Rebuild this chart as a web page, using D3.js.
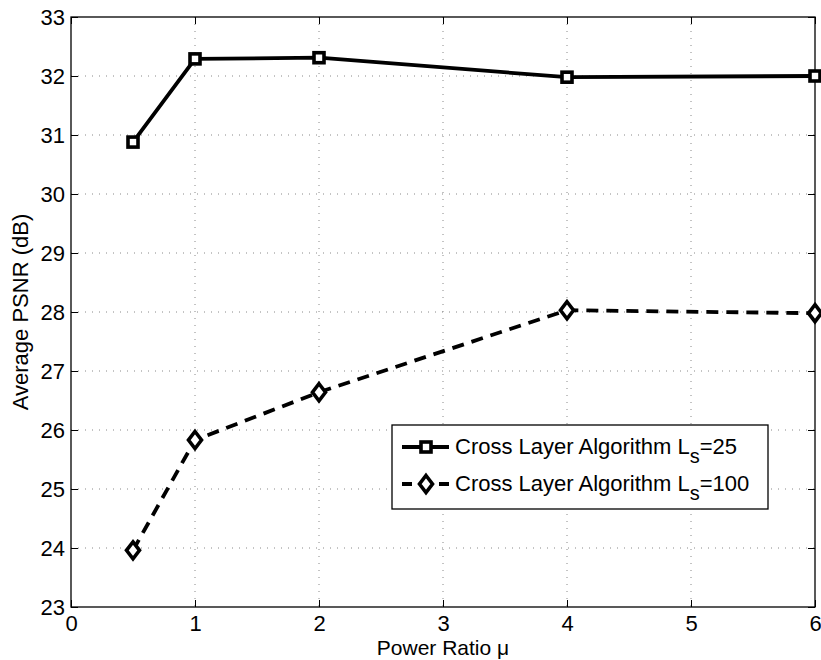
<!DOCTYPE html>
<html>
<head>
<meta charset="utf-8">
<script src="https://cdn.jsdelivr.net/npm/d3@7"></script>
<style>
  body { margin: 0; background: #fff; }
  svg text { font-family: "Liberation Sans", Arial, Helvetica, sans-serif; fill: #000; }
</style>
</head>
<body>
<svg id="chart" width="821" height="660"></svg>
<script>
// Power ratio (x) vs. average PSNR in dB for two slice lengths
const powerRatio = [0.5, 1, 2, 4, 6];
const psnrLs25 = [30.88, 32.29, 32.31, 31.98, 32.00];
const psnrLs100 = [23.96, 25.83, 26.64, 28.03, 27.98];
const xTicks = [0, 1, 2, 3, 4, 5, 6];
const yTicks = [23, 24, 25, 26, 27, 28, 29, 30, 31, 32, 33];
const seriesNames = ["Cross Layer Algorithm L", "Cross Layer Algorithm L"];
const seriesSubs = ["s", "s"];
const seriesSuffix = ["=25", "=100"];

const svg = d3.select("#chart");
const plotL = 71, plotR = 815, plotT = 17, plotB = 607;

const x = d3.scaleLinear().domain([0, 6]).range([plotL, plotR]);
const y = d3.scaleLinear().domain([23, 33]).range([plotB, plotT]);

// dotted grid
const grid = svg.append("g");
grid.selectAll(".gx").data(xTicks.slice(1, -1)).join("line")
  .attr("x1", d => x(d)).attr("x2", d => x(d))
  .attr("y1", plotT).attr("y2", plotB)
  .attr("stroke", "#888").attr("stroke-width", 1).attr("stroke-dasharray", "1,6");
grid.selectAll(".gy").data(yTicks.slice(1, -1)).join("line")
  .attr("x1", plotL).attr("x2", plotR)
  .attr("y1", d => y(d)).attr("y2", d => y(d))
  .attr("stroke", "#888").attr("stroke-width", 1).attr("stroke-dasharray", "1,6");

// axes with inward ticks on all four sides
const tickLen = 7;
const fontSize = 22;
const ax = d3.axisBottom(x).tickValues(xTicks).tickSize(-tickLen).tickPadding(tickLen + 1).tickFormat(d3.format("d"));
const ay = d3.axisLeft(y).tickValues(yTicks).tickSize(-tickLen).tickPadding(tickLen - 1).tickFormat(d3.format("d"));
const axTop = d3.axisTop(x).tickValues(xTicks).tickSize(-tickLen).tickFormat("");
const ayRight = d3.axisRight(y).tickValues(yTicks).tickSize(-tickLen).tickFormat("");

function style(g) {
  g.select(".domain").remove();
  g.selectAll(".tick line").attr("stroke", "#000").attr("stroke-width", 1);
  g.selectAll(".tick text").attr("font-size", fontSize)
    .attr("font-family", '"Liberation Sans", Arial, sans-serif').attr("fill", "#000");
}
svg.append("g").attr("transform", `translate(0,${plotB})`).call(ax).call(style);
svg.append("g").attr("transform", `translate(${plotL},0)`).call(ay).call(style);
svg.append("g").attr("transform", `translate(0,${plotT})`).call(axTop).call(style);
svg.append("g").attr("transform", `translate(${plotR},0)`).call(ayRight).call(style);

// plot frame
svg.append("rect").attr("x", plotL).attr("y", plotT)
  .attr("width", plotR - plotL).attr("height", plotB - plotT)
  .attr("fill", "none").attr("stroke", "#000").attr("stroke-width", 1.3);

// axis titles
svg.append("text").attr("x", x(3)).attr("y", 655)
  .attr("text-anchor", "middle").attr("font-size", 21)
  .text("Power Ratio \u03BC");
svg.append("text")
  .attr("transform", `translate(28,${(plotT + plotB) / 2}) rotate(-90)`)
  .attr("text-anchor", "middle").attr("font-size", fontSize)
  .text("Average PSNR (dB)");

// series
const line = d3.line().x(d => x(d[0])).y(d => y(d[1]));
const data25 = powerRatio.map((p, i) => [p, psnrLs25[i]]);
const data100 = powerRatio.map((p, i) => [p, psnrLs100[i]]);

svg.append("path").datum(data25).attr("d", line)
  .attr("fill", "none").attr("stroke", "#000").attr("stroke-width", 3.8)
  .attr("stroke-linejoin", "round");
svg.append("path").datum(data100).attr("d", line)
  .attr("fill", "none").attr("stroke", "#000").attr("stroke-width", 3.8)
  .attr("stroke-dasharray", "12,8");

function square(g, cx, cy) {
  g.append("rect").attr("x", cx - 5).attr("y", cy - 5)
    .attr("width", 10).attr("height", 10)
    .attr("fill", "#fff").attr("stroke", "#000").attr("stroke-width", 3.6);
}
function diamond(g, cx, cy) {
  const rx = 6.5, ry = 8.5;
  g.append("path")
    .attr("d", `M${cx},${cy - ry}L${cx + rx},${cy}L${cx},${cy + ry}L${cx - rx},${cy}Z`)
    .attr("fill", "#fff").attr("stroke", "#000").attr("stroke-width", 3.6);
}
const marks = svg.append("g");
data25.forEach(d => square(marks, x(d[0]), y(d[1])));
data100.forEach(d => diamond(marks, x(d[0]), y(d[1])));

// legend
const lg = svg.append("g");
lg.append("rect").attr("x", 392).attr("y", 425).attr("width", 376).attr("height", 84)
  .attr("fill", "#fff").attr("stroke", "#000").attr("stroke-width", 1.3);
const rows = [447, 484];
lg.append("line").attr("x1", 402).attr("x2", 449).attr("y1", rows[0]).attr("y2", rows[0])
  .attr("stroke", "#000").attr("stroke-width", 3.8);
square(lg, 426, rows[0]);
lg.append("line").attr("x1", 402).attr("x2", 449).attr("y1", rows[1]).attr("y2", rows[1])
  .attr("stroke", "#000").attr("stroke-width", 3.8).attr("stroke-dasharray", "10,27");
diamond(lg, 426, rows[1]);
rows.forEach((ry, i) => {
  const t = lg.append("text").attr("x", 455).attr("y", ry + 7).attr("font-size", fontSize);
  t.append("tspan").text(seriesNames[i]);
  t.append("tspan").attr("dy", 9).attr("font-size", 20).text(seriesSubs[i]);
  t.append("tspan").attr("dy", -9).text(seriesSuffix[i]);
});
</script>
</body>
</html>
